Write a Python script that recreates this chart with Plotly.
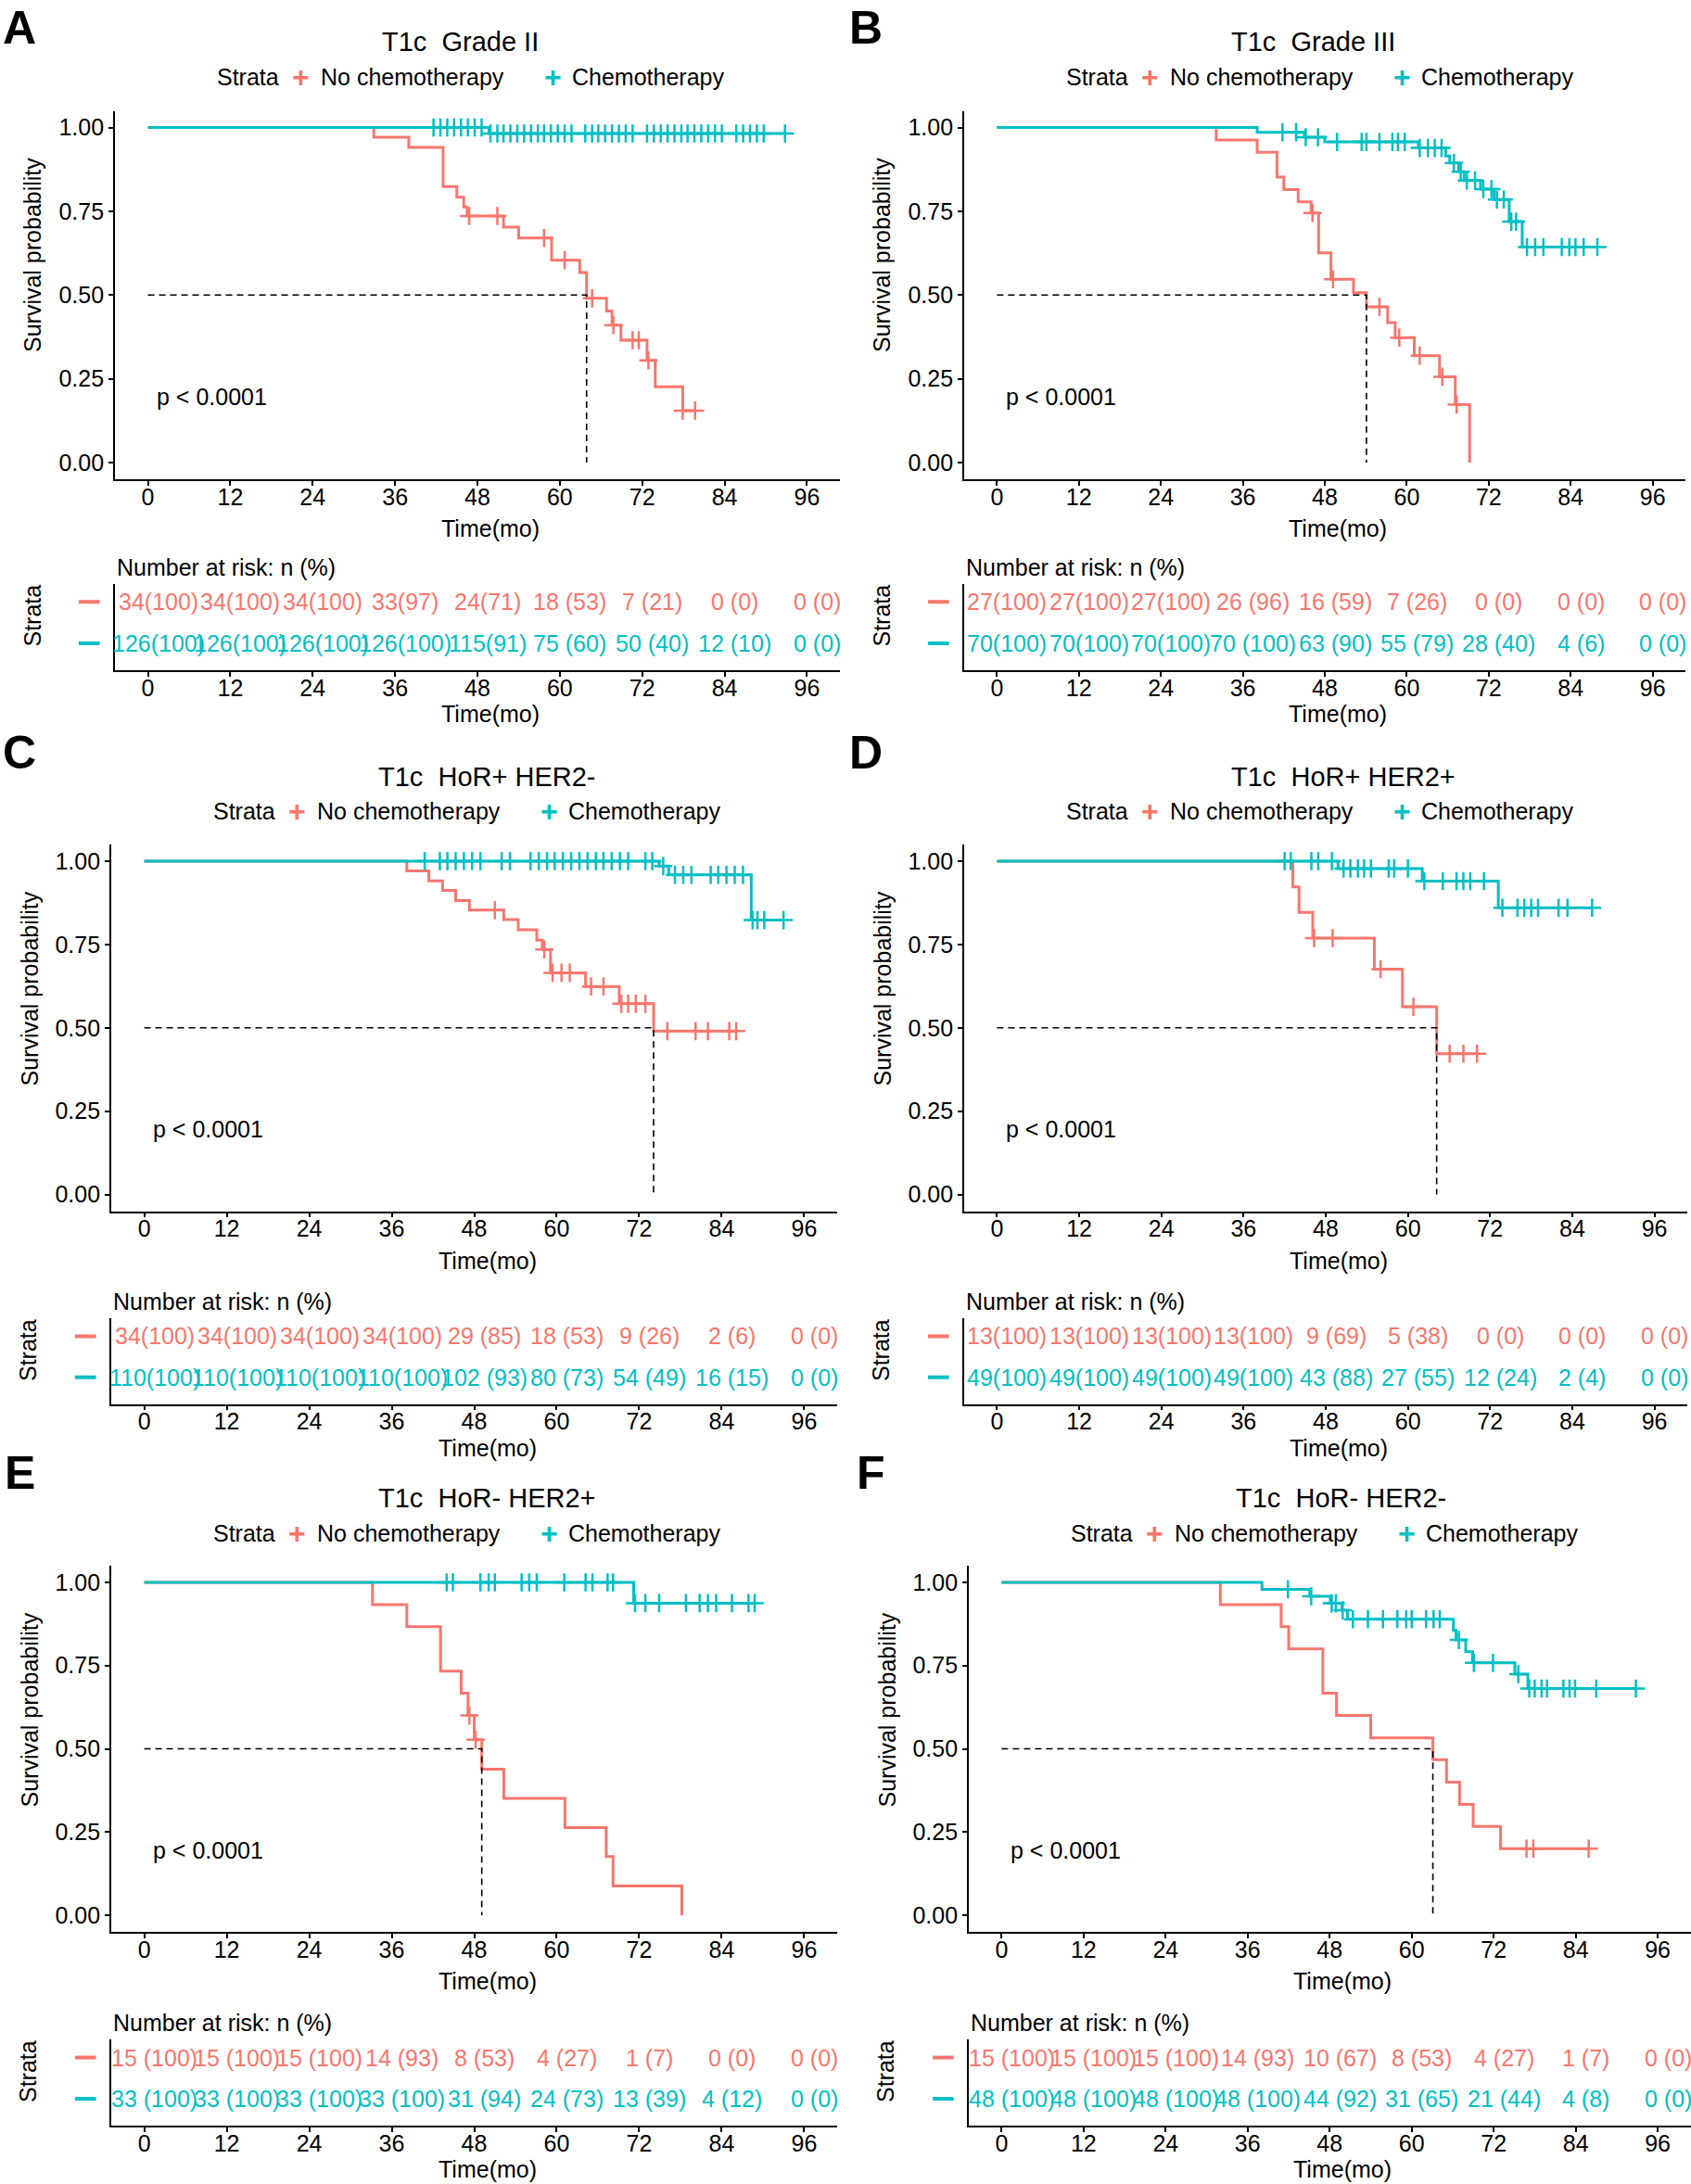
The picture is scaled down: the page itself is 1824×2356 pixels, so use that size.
import plotly.graph_objects as go

W, H = 1824, 2356
RED, CYAN = "#F8766D", "#00BFC4"
FONT = "Arial, Liberation Sans, Helvetica, sans-serif"
FS = 25

# ---------------- data ----------------
TIME_TICKS = [0, 12, 24, 36, 48, 60, 72, 84, 96]
SURV_TICKS = [0, 0.25, 0.5, 0.75, 1.0]
SURV_TICKLABELS = ["0.00", "0.25", "0.50", "0.75", "1.00"]
GROUPS = ["No chemotherapy", "Chemotherapy"]
P_TEXT = "p < 0.0001"

TITLES = ["T1c\u00a0 Grade II", "T1c\u00a0 Grade III", "T1c\u00a0 HoR+ HER2-",
          "T1c\u00a0 HoR+ HER2+", "T1c\u00a0 HoR- HER2+", "T1c\u00a0 HoR- HER2-"]
LETTERS = ["A", "B", "C", "D", "E", "F"]

# Panel A
A_no_t = [32.9, 38.0, 43.0, 45.0, 46.0, 46.5, 51.8, 54.0, 58.8, 62.9, 63.9, 66.8, 67.6, 68.9, 72.7, 73.9, 77.9]
A_no_s = [0.971, 0.941, 0.824, 0.792, 0.763, 0.736, 0.703, 0.670, 0.604, 0.567, 0.490, 0.452, 0.410, 0.365, 0.305, 0.226, 0.155]
A_no_c = [46.8, 50.9, 57.7, 60.7, 64.7, 67.8, 70.6, 71.5, 72.9, 77.9, 79.7]
A_ch_t = [49.7]
A_ch_s = [0.982]
A_ch_c = [41.6, 42.6, 43.6, 44.6, 45.6, 46.6, 47.6, 48.6,
          49.9, 50.9, 51.8, 52.8, 53.8, 54.8, 55.8, 56.8, 57.7, 58.7, 59.7, 60.7, 61.7,
          63.7, 64.7, 65.6, 66.6, 67.6, 68.6, 69.6, 70.6,
          72.7, 73.7, 74.7, 75.7, 76.7, 77.7, 78.6, 79.6, 80.6, 81.6, 82.6, 83.6,
          85.7, 86.7, 87.7, 88.7, 89.7, 92.8]
A_risk_no = ["34(100)", "34(100)", "34(100)", "33(97)", "24(71)", "18 (53)", "7 (21)", "0 (0)", "0 (0)"]
A_risk_ch = ["126(100)", "126(100)", "126(100)", "126(100)", "115(91)", "75 (60)", "50 (40)", "12 (10)", "0 (0)"]

# Panel B
B_no_t = [32.1, 38.1, 41.0, 42.0, 44.1, 46.0, 47.1, 48.9, 52.2, 54.1, 57.2, 58.3, 61.1, 64.8, 67.1, 69.2]
B_no_s = [0.963, 0.926, 0.852, 0.815, 0.778, 0.745, 0.626, 0.547, 0.507, 0.465, 0.418, 0.373, 0.319, 0.256, 0.173, 0.0]
B_no_c = [46.2, 49.2, 56.0, 58.9, 61.9, 65.2, 67.3]
B_ch_t = [38.1, 45.0, 48.0, 61.7, 65.7, 66.3, 67.6, 68.4, 70.8, 72.8, 75.0, 76.9]
B_ch_s = [0.986, 0.971, 0.957, 0.939, 0.915, 0.894, 0.868, 0.842, 0.816, 0.785, 0.719, 0.643]
B_ch_c = [41.8, 43.8, 45.2, 47.0, 49.8, 53.4, 54.1, 56.0, 57.9, 58.7, 59.7, 61.9, 63.1, 64.1, 65.1,
          66.9, 67.9, 68.8, 70.0, 71.2, 72.4, 73.2, 74.2, 75.3, 76.0, 77.6, 78.8, 80.0,
          82.7, 83.8, 84.7, 85.9, 87.9]
B_risk_no = ["27(100)", "27(100)", "27(100)", "26 (96)", "16 (59)", "7 (26)", "0 (0)", "0 (0)", "0 (0)"]
B_risk_ch = ["70(100)", "70(100)", "70(100)", "70 (100)", "63 (90)", "55 (79)", "28 (40)", "4 (6)", "0 (0)"]

# Panel C
C_no_t = [38.2, 41.4, 43.4, 45.3, 47.3, 52.3, 54.4, 57.1, 57.9, 59.1, 64.2, 69.1, 74.1]
C_no_s = [0.971, 0.941, 0.912, 0.882, 0.853, 0.825, 0.794, 0.763, 0.735, 0.665, 0.624, 0.572, 0.490]
C_no_c = [51.0, 58.2, 59.4, 60.7, 61.9, 65.0, 66.8, 69.4, 70.4, 71.5, 72.9, 76.1, 80.2, 82.0, 85.1, 86.1]
C_ch_t = [74.9, 76.3, 88.3]
C_ch_s = [0.985, 0.959, 0.823]
C_ch_c = [40.8, 43.0, 44.1, 45.3, 46.5, 47.7, 48.9, 52.0, 53.2, 56.2, 57.4, 58.6, 59.7, 60.9,
          62.1, 63.3, 64.5, 65.7, 66.8, 68.0, 69.2, 70.4, 72.9, 73.9,
          75.5, 77.2, 78.4, 79.6, 82.4, 83.5, 84.7, 85.9, 87.1, 88.5, 89.2, 90.2, 93.0]
C_risk_no = ["34(100)", "34(100)", "34(100)", "34(100)", "29 (85)", "18 (53)", "9 (26)", "2 (6)", "0 (0)"]
C_risk_ch = ["110(100)", "110(100)", "110(100)", "110(100)", "102 (93)", "80 (73)", "54 (49)", "16 (15)", "0 (0)"]

# Panel D
D_no_t = [43.2, 44.1, 46.1, 55.1, 59.2, 64.2]
D_no_s = [0.923, 0.846, 0.769, 0.676, 0.563, 0.422]
D_no_c = [46.3, 49.0, 56.0, 60.8, 66.1, 68.1, 70.1]
D_ch_t = [49.8, 62.1, 73.2]
D_ch_s = [0.978, 0.940, 0.860]
D_ch_c = [42.0, 42.9, 45.9, 46.9, 48.9, 50.6, 51.6, 52.7, 53.6, 54.6, 57.2, 58.0, 60.0,
          62.4, 65.1, 67.1, 68.1, 69.1, 71.1, 73.8, 76.0, 77.0, 78.0, 79.0, 82.0, 83.3, 86.9]
D_risk_no = ["13(100)", "13(100)", "13(100)", "13(100)", "9 (69)", "5 (38)", "0 (0)", "0 (0)", "0 (0)"]
D_risk_ch = ["49(100)", "49(100)", "49(100)", "49(100)", "43 (88)", "27 (55)", "12 (24)", "2 (4)", "0 (0)"]

# Panel E
E_no_t = [33.2, 38.2, 43.1, 46.1, 47.1, 48.0, 49.1, 52.3, 61.2, 67.2, 68.2, 78.2]
E_no_s = [0.933, 0.867, 0.733, 0.667, 0.600, 0.527, 0.439, 0.351, 0.263, 0.176, 0.088, 0.0]
E_no_c = [47.3, 48.2]
E_ch_t = [71.2]
E_ch_s = [0.9375]
E_ch_c = [44.0, 44.9, 48.9, 50.1, 51.0, 54.9, 56.0, 57.1, 61.1, 64.2, 65.2, 67.4, 68.2,
          71.4, 72.9, 74.9, 78.8, 80.8, 82.0, 83.2, 85.5, 87.9, 88.8]
E_risk_no = ["15 (100)", "15 (100)", "15 (100)", "14 (93)", "8 (53)", "4 (27)", "1 (7)", "0 (0)", "0 (0)"]
E_risk_ch = ["33 (100)", "33 (100)", "33 (100)", "33 (100)", "31 (94)", "24 (73)", "13 (39)", "4 (12)", "0 (0)"]

# Panel F
F_no_t = [32.0, 40.9, 42.0, 47.0, 49.0, 54.0, 63.1, 65.1, 67.0, 69.0, 73.0]
F_no_s = [0.933, 0.867, 0.800, 0.667, 0.600, 0.533, 0.467, 0.400, 0.333, 0.267, 0.200]
F_no_c = [76.8, 77.8, 85.9]
F_ch_t = [38.1, 45.1, 48.1, 49.8, 50.6, 66.1, 66.5, 67.9, 68.9, 75.1, 77.0]
F_ch_s = [0.979, 0.958, 0.937, 0.916, 0.889, 0.856, 0.827, 0.792, 0.758, 0.724, 0.681]
F_ch_c = [41.9, 45.3, 48.3, 48.9, 49.9, 51.4, 53.6, 55.8, 57.9, 59.2, 60.0, 62.1, 63.2, 64.1,
          66.9, 69.1, 71.9, 75.6, 77.2, 78.0, 79.0, 79.8, 82.2, 83.1, 83.9, 87.0, 92.8]
F_risk_no = ["15 (100)", "15 (100)", "15 (100)", "14 (93)", "10 (67)", "8 (53)", "4 (27)", "1 (7)", "0 (0)"]
F_risk_ch = ["48 (100)", "48 (100)", "48 (100)", "48 (100)", "44 (92)", "31 (65)", "21 (44)", "4 (8)", "0 (0)"]

PANEL_DATA = [
    (A_no_t, A_no_s, A_no_c, A_ch_t, A_ch_s, A_ch_c, A_risk_no, A_risk_ch),
    (B_no_t, B_no_s, B_no_c, B_ch_t, B_ch_s, B_ch_c, B_risk_no, B_risk_ch),
    (C_no_t, C_no_s, C_no_c, C_ch_t, C_ch_s, C_ch_c, C_risk_no, C_risk_ch),
    (D_no_t, D_no_s, D_no_c, D_ch_t, D_ch_s, D_ch_c, D_risk_no, D_risk_ch),
    (E_no_t, E_no_s, E_no_c, E_ch_t, E_ch_s, E_ch_c, E_risk_no, E_risk_ch),
    (F_no_t, F_no_s, F_no_c, F_ch_t, F_ch_s, F_ch_c, F_risk_no, F_risk_ch),
]

# ---------------- layout geometry (pixels) ----------------
ROWS = [
    dict(pt=119.5, pb=517.0, tt=629.5, tb=723.0, title=45.0, leg=83.0, letter=30.0),
    dict(pt=911.0, pb=1306.5, tt=1422.0, tb=1514.5, title=837.5, leg=875.0, letter=812.0),
    dict(pt=1689.0, pb=2084.0, tt=2200.0, tb=2293.0, title=1616.0, leg=1653.5, letter=1589.0),
]
COLS = [(124.0, 906.0), (1040.0, 1818.0), (120.0, 903.0), (1040.0, 1820.0), (120.0, 903.0), (1045.0, 1823.5)]


def fx(px):
    return px / W


def fy(py):
    return 1 - py / H


def surv_at(t, times, surv):
    s = 1.0
    for tt, ss in zip(times, surv):
        if tt <= t:
            s = ss
    return s


def step_xy(times, surv, cens):
    end = max(list(times) + list(cens))
    return [0] + list(times) + [end], [1.0] + list(surv) + [surv[-1]]


fig = go.Figure()
annotations, shapes = [], []
layout = dict(width=W, height=H, margin=dict(l=0, r=0, t=0, b=0, pad=0),
              plot_bgcolor="white", paper_bgcolor="white", showlegend=False,
              font=dict(family=FONT, size=FS, color="black"))

axis_common = dict(showgrid=False, zeroline=False, showline=True, linecolor="black", linewidth=1.8,
                   ticks="outside", ticklen=5, tickwidth=1.8, tickcolor="black",
                   tickfont=dict(family=FONT, size=FS, color="black"), fixedrange=True)


def txt(x, y, text, size=FS, color="black", xanchor="center", yanchor="middle", angle=0, **kw):
    d = dict(x=x, y=y, xref="paper", yref="paper", text=text, showarrow=False,
             font=dict(family=FONT, size=size, color=color), xanchor=xanchor, yanchor=yanchor,
             textangle=angle)
    d.update(kw)
    annotations.append(d)


for i in range(6):
    no_t, no_s, no_c, ch_t, ch_s, ch_c, risk_no, risk_ch = PANEL_DATA[i]
    row = ROWS[i // 2]
    x0, x1 = COLS[i]
    kp, kt = 2 * i + 1, 2 * i + 2
    xp, yp = f"x{kp}", f"y{kp}"
    xt, yt = f"x{kt}", f"y{kt}"
    nm = lambda k, a: (a + "axis") if k == 1 else f"{a}axis{k}"

    layout[nm(kp, "x")] = dict(axis_common, domain=[fx(x0), fx(x1)], anchor=yp,
                               range=[-4.8, 100.8], tickvals=TIME_TICKS, ticklabelstandoff=-9)
    layout[nm(kp, "y")] = dict(axis_common, domain=[fy(row["pb"]), fy(row["pt"])], anchor=xp,
                               range=[-0.05, 1.05], tickvals=SURV_TICKS, ticktext=SURV_TICKLABELS)
    layout[nm(kt, "x")] = dict(axis_common, domain=[fx(x0), fx(x1)], anchor=yt,
                               range=[-4.8, 100.8], tickvals=TIME_TICKS, ticklabelstandoff=-9)
    layout[nm(kt, "y")] = dict(axis_common, domain=[fy(row["tb"]), fy(row["tt"])], anchor=xt,
                               range=[0.35, 2.44], tickvals=[1, 2], showticklabels=False, ticks="")

    # survival curves
    for (t, s, c, col) in [(no_t, no_s, no_c, RED), (ch_t, ch_s, ch_c, CYAN)]:
        sx, sy = step_xy(t, s, c)
        fig.add_trace(go.Scatter(x=sx, y=sy, mode="lines", line=dict(color=col, width=3, shape="hv"),
                                 xaxis=xp, yaxis=yp, hoverinfo="skip"))
        fig.add_trace(go.Scatter(x=c, y=[surv_at(v, t, s) for v in c], mode="markers",
                                 marker=dict(symbol="cross-thin", size=14, color=col,
                                             line=dict(color=col, width=2.5)),
                                 xaxis=xp, yaxis=yp, hoverinfo="skip", cliponaxis=False))
    # median survival line
    med = next((tt for tt, ss in zip(no_t, no_s) if ss <= 0.5), None)
    if med is not None:
        fig.add_trace(go.Scatter(x=[0, med, med], y=[0.5, 0.5, 0], mode="lines",
                                 line=dict(color="black", width=1.6, dash="7px,5px"),
                                 xaxis=xp, yaxis=yp, hoverinfo="skip"))

    # p value
    annotations.append(dict(x=1.0, y=0.195, xref=xp, yref=yp, text=P_TEXT, showarrow=False,
                            xanchor="left", yanchor="middle", font=dict(family=FONT, size=FS)))

    # risk table text
    for tm, lab in zip(TIME_TICKS, risk_no):
        annotations.append(dict(x=tm, y=2, xref=xt, yref=yt, text=lab, showarrow=False, xshift=11,
                                xanchor="center", yanchor="middle",
                                font=dict(family=FONT, size=FS, color=RED)))
    for tm, lab in zip(TIME_TICKS, risk_ch):
        annotations.append(dict(x=tm, y=1, xref=xt, yref=yt, text=lab, showarrow=False, xshift=11,
                                xanchor="center", yanchor="middle",
                                font=dict(family=FONT, size=FS, color=CYAN)))
    for yv, col in [(2, RED), (1, CYAN)]:
        shapes.append(dict(type="line", xref=f"{xt} domain", yref=yt, x0=-0.05, x1=-0.021,
                           y0=yv, y1=yv, line=dict(color=col, width=4)))

    # texts around panel
    cx = (x0 + x1) / 2 + 14
    txt(fx(max(x0 - 106, 21)), fy(row["letter"]), f"<b>{LETTERS[i]}</b>", size=50)
    txt(fx(x0 + 286), fy(row["title"]), TITLES[i], size=29, xanchor="left")
    txt(fx(x0 + 108), fy(row["leg"]), "Strata", xanchor="left")
    txt(fx(x0 + 200.6), fy(row["leg"]), "<b>+</b>", size=32, color=RED)
    txt(fx(x0 + 220), fy(row["leg"]), GROUPS[0], xanchor="left")
    txt(fx(x0 + 472.5), fy(row["leg"]), "<b>+</b>", size=32, color=CYAN)
    txt(fx(x0 + 491), fy(row["leg"]), GROUPS[1], xanchor="left")
    txt(fx(x0 - 89), fy(row["pt"] + 155.5), "Survival probability", angle=-90)
    txt(fx(cx), fy(row["pb"] + 53), "Time(mo)")
    txt(fx(x0), fy(row["tt"] - 18), "Number at risk: n (%)", xanchor="left")
    txt(fx(x0 - 90), fy(row["tt"] + 35), "Strata", angle=-90)
    txt(fx(cx), fy(row["tb"] + 47), "Time(mo)")

layout["annotations"] = annotations
layout["shapes"] = shapes
fig.update_layout(**layout)

fig.write_html("out.html", config={"displayModeBar": False},
               post_script="document.body.style.margin='0';")
